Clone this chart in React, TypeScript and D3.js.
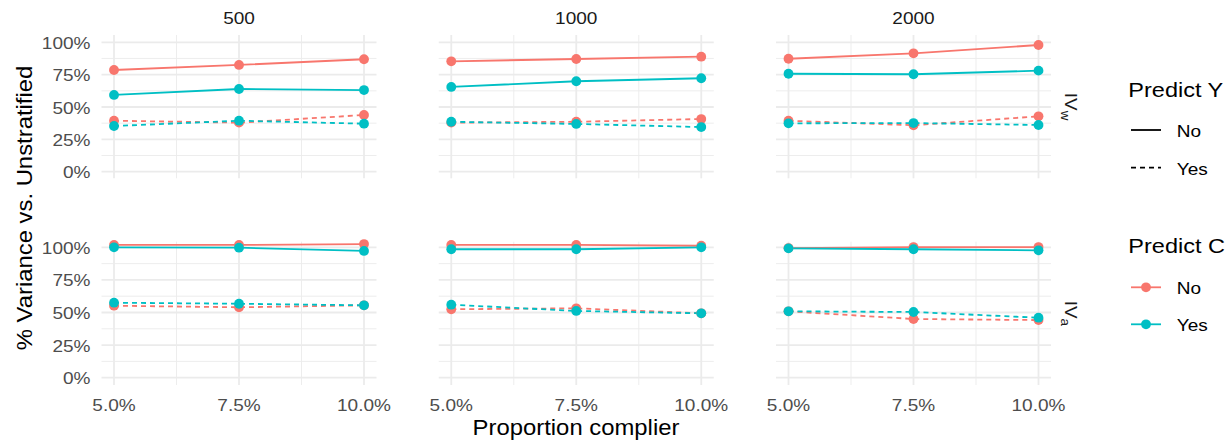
import React from "react";
import * as d3 from "d3";

// ---------- data ----------
const sizes = ["500", "1000", "2000"];
const proportions = [5, 7.5, 10];
const xTickLabels = ["5.0%", "7.5%", "10.0%"];
const yTicks = [0, 25, 50, 75, 100];
const yTickLabels = ["0%", "25%", "50%", "75%", "100%"];
const predictCLevels = ["No", "Yes"];
const predictYLevels = ["No", "Yes"];

// IV_w row: [size 500, 1000, 2000] x [5%, 7.5%, 10%]
const ivwCNoYNo = [[78.6, 82.5, 86.9], [85.3, 87.1, 88.9], [87.3, 91.5, 97.9]];
const ivwCNoYYes = [[39.4, 37.9, 43.8], [37.9, 38.6, 40.7], [39.4, 35.9, 42.8]];
const ivwCYesYNo = [[59.3, 63.9, 63.1], [65.5, 69.9, 72.2], [75.7, 75.3, 78.1]];
const ivwCYesYYes = [[35.3, 39.4, 37.1], [38.6, 36.9, 34.5], [37.4, 37.6, 36.1]];
// IV_a row
const ivaCNoYNo = [[101.8, 101.8, 102.5], [101.8, 101.8, 101.2], [99.4, 100.2, 100.2]];
const ivaCNoYYes = [[55.2, 54.0, 55.5], [52.5, 53.2, 49.4], [50.9, 45.0, 44.2]];
const ivaCYesYNo = [[100.0, 99.7, 97.2], [98.5, 98.5, 100.0], [99.2, 98.5, 97.7]];
const ivaCYesYYes = [[57.5, 56.7, 55.5], [56.0, 51.2, 49.4], [50.9, 50.4, 46.0]];

const rows = [
  { sub: "w", series: [
    { c: "No", y: "No", v: ivwCNoYNo },
    { c: "No", y: "Yes", v: ivwCNoYYes },
    { c: "Yes", y: "No", v: ivwCYesYNo },
    { c: "Yes", y: "Yes", v: ivwCYesYYes },
  ] },
  { sub: "a", series: [
    { c: "No", y: "No", v: ivaCNoYNo },
    { c: "No", y: "Yes", v: ivaCNoYYes },
    { c: "Yes", y: "No", v: ivaCYesYNo },
    { c: "Yes", y: "Yes", v: ivaCYesYYes },
  ] },
];

// ---------- style / layout ----------
const W = 1228, H = 442;
const FONT = "'Liberation Sans', Arial, Helvetica, sans-serif";
const SX = 1.12;
const colorScale = d3.scaleOrdinal<string, string>().domain(predictCLevels).range(["#F8766D", "#00BFC4"]);
const dashFor = (y: string) => (y === "Yes" ? "5,4" : null);
const panelW = 275;
const panelX0 = (i: number) => 101.5 + i * 337.25;
const rowLayout = [
  { top: 35, bottom: 178.3, y0: 171.7, y100: 42.3 },
  { top: 241.7, bottom: 385, y0: 377.7, y100: 247.3 },
];
const GRID = "#EBEBEB";
const PR = 4.9;

function T({ x, y, rot = 0, anchor = "start", size = 17, fill = "#4D4D4D", children }: any) {
  return (
    <text
      transform={`translate(${x},${y}) rotate(${rot}) scale(${SX},1)`}
      textAnchor={anchor}
      fontSize={size}
      fontFamily={FONT}
      fill={fill}
    >
      {children}
    </text>
  );
}

export default function App() {
  const panels: any[] = [];
  rows.forEach((row, ri) => {
    const L = rowLayout[ri];
    const y = d3.scaleLinear().domain([0, 100]).range([L.y0, L.y100]);
    const minorY = d3.range(12.5, 100, 25);
    sizes.forEach((s, si) => {
      const x0 = panelX0(si);
      const x = d3.scaleLinear().domain([4.75, 10.25]).range([x0, x0 + panelW]);
      const minorX = [6.25, 8.75];
      const line = d3.line<number>().x((_, i) => x(proportions[i])).y((d) => y(d));
      panels.push(
        <g key={`p-${ri}-${si}`}>
          {minorY.map((t) => (
            <line key={`my${t}`} x1={x0} x2={x0 + panelW} y1={y(t)} y2={y(t)} stroke={GRID} strokeWidth={0.9} />
          ))}
          {minorX.map((t) => (
            <line key={`mx${t}`} x1={x(t)} x2={x(t)} y1={L.top} y2={L.bottom} stroke={GRID} strokeWidth={0.9} />
          ))}
          {yTicks.map((t) => (
            <line key={`gy${t}`} x1={x0} x2={x0 + panelW} y1={y(t)} y2={y(t)} stroke={GRID} strokeWidth={1.8} />
          ))}
          {proportions.map((t) => (
            <line key={`gx${t}`} x1={x(t)} x2={x(t)} y1={L.top} y2={L.bottom} stroke={GRID} strokeWidth={1.8} />
          ))}
          {row.series.map((se, k) => (
            <path
              key={`l${k}`}
              d={line(se.v[si]) || ""}
              fill="none"
              stroke={colorScale(se.c)}
              strokeWidth={1.8}
              strokeDasharray={dashFor(se.y) || undefined}
            />
          ))}
          {row.series.map((se, k) =>
            se.v[si].map((d, i) => (
              <circle key={`c${k}-${i}`} cx={x(proportions[i])} cy={y(d)} r={PR} fill={colorScale(se.c)} />
            ))
          )}
          {si === 0 &&
            yTicks.map((t, ti) => (
              <T key={`yl${t}`} x={90.5} y={y(t) + 6.5} anchor="end">{yTickLabels[ti]}</T>
            ))}
          {ri === 1 &&
            proportions.map((t, ti) => (
              <T key={`xl${t}`} x={x(t)} y={411} anchor="middle">{xTickLabels[ti]}</T>
            ))}
          {ri === 0 && (
            <T x={x0 + panelW / 2} y={24} anchor="middle" fill="#1A1A1A">{s}</T>
          )}
        </g>
      );
    });
    // right strip
    panels.push(
      <text
        key={`strip-${ri}`}
        transform={`translate(1065,${(L.top + L.bottom) / 2}) rotate(90) scale(${SX},1)`}
        textAnchor="middle"
        fontSize={17}
        fontFamily={FONT}
        fill="#1A1A1A"
      >
        IV<tspan fontSize={12} dy={4}>{row.sub}</tspan>
      </text>
    );
  });

  const legendYRows = [130, 167.7];
  const legendCRows = [287.3, 324.3];

  return (
    <svg width={W} height={H} style={{ position: "absolute", left: 0, top: 0, background: "#fff" }}>
      <rect x={0} y={0} width={W} height={H} fill="#fff" />
      {panels}
      {/* axis titles */}
      <T x={576} y={435} anchor="middle" size={21.3} fill="#000">Proportion complier</T>
      <T x={32} y={208} rot={-90} anchor="middle" size={21.3} fill="#000">% Variance vs. Unstratified</T>
      {/* legend: Predict Y */}
      <T x={1128.3} y={96.7} size={21} fill="#000">Predict Y</T>
      {predictYLevels.map((lv, i) => (
        <g key={`ly${lv}`}>
          <line x1={1131} x2={1161} y1={legendYRows[i]} y2={legendYRows[i]} stroke="#000" strokeWidth={1.8}
            strokeDasharray={dashFor(lv) || undefined} />
          <T x={1176.7} y={legendYRows[i] + 6.8} fill="#000">{lv}</T>
        </g>
      ))}
      {/* legend: Predict C */}
      <T x={1128.3} y={253.3} size={21} fill="#000">Predict C</T>
      {predictCLevels.map((lv, i) => (
        <g key={`lc${lv}`}>
          <line x1={1131} x2={1161} y1={legendCRows[i]} y2={legendCRows[i]} stroke={colorScale(lv)} strokeWidth={1.8} />
          <circle cx={1146} cy={legendCRows[i]} r={PR} fill={colorScale(lv)} />
          <T x={1176.7} y={legendCRows[i] + 6.8} fill="#000">{lv}</T>
        </g>
      ))}
    </svg>
  );
}
